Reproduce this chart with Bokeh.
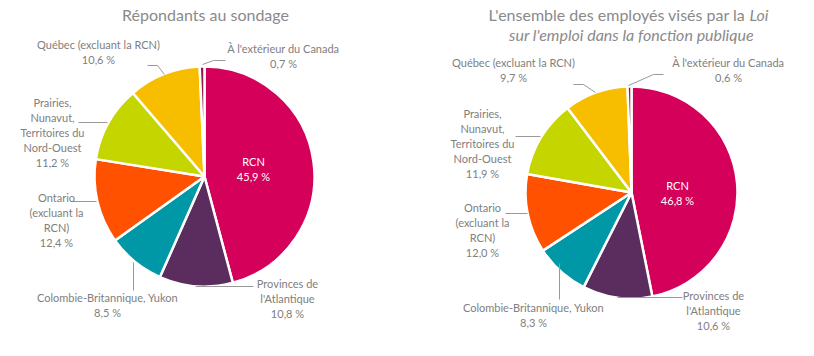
import numpy as np
from bokeh.plotting import figure
from bokeh.models import Range1d, ColumnDataSource
from bokeh.core.properties import value
from bokeh.embed import file_html
from bokeh.resources import INLINE

# ---- data ----
categories = ["RCN", "Provinces de l'Atlantique", "Colombie-Britannique, Yukon",
              "Ontario (excluant la RCN)", "Prairies, Nunavut, Territoires du Nord-Ouest",
              "Québec (excluant la RCN)", "À l'extérieur du Canada"]
label_lines = [["RCN"], ["Provinces de", "l'Atlantique"], ["Colombie-Britannique, Yukon"],
               ["Ontario", "(excluant la", "RCN)"],
               ["Prairies,", "Nunavut,", "Territoires du", "Nord-Ouest"],
               ["Québec (excluant la RCN)"], ["À l'extérieur du Canada"]]
respondents = [45.9, 10.8, 8.5, 12.4, 11.2, 10.6, 0.7]
employees = [46.8, 10.6, 8.3, 12.0, 11.9, 9.7, 0.6]
colors = ["#D4005A", "#5B2C5E", "#0098A6", "#FF5100", "#C5D500", "#F7BE00", "#8E1B45"]

W, H = 814, 356
FONT = "Lato"
GRAY = "#808080"
TGRAY = "#8A8A8A"
FS = "11px"
TFS = "16px"
LH = 15

p = figure(width=W, height=H, x_range=Range1d(0, W), y_range=Range1d(0, H),
           output_backend="svg", toolbar_location=None, min_border=0,
           x_axis_type=None, y_axis_type=None)
p.grid.visible = False
p.outline_line_color = None
p.background_fill_color = "white"
p.border_fill_color = "white"

def Y(py):
    return H - py

charts = [
    dict(vals=respondents, cx=204, cy=176, r=110,
         labels=[(253, 161), (287, 283), (107, 297), (56, 197), (52, 102), (98, 44), (283, 48)],
         leaders=[None, [(195, 286), (253, 286)], [(133, 262), (133, 290)],
                  [(70, 201), (96, 201)], [(78, 122), (107, 122)],
                  [(147, 65), (157, 65), (164, 74)], [(202, 64), (213, 60), (225, 60)]]),
    dict(vals=employees, cx=631, cy=192, r=106,
         labels=[(677, 185), (713, 295), (533, 307), (482, 207), (482, 113), (513, 62), (728, 62)],
         leaders=[None, [(617, 297), (682, 297)], [(559, 263), (559, 299)],
                  [(505, 213), (527, 213)], [(515, 136), (540, 136)],
                  [(573, 84), (583, 84), (595, 92)], [(628, 85), (653, 74), (663, 74)]]),
]

for ch in charts:
    vals = np.array(ch["vals"], dtype=float)
    frac = vals / vals.sum()
    cum = np.concatenate([[0.0], np.cumsum(frac)])
    start = np.pi / 2 - 2 * np.pi * cum[:-1]
    end = np.pi / 2 - 2 * np.pi * cum[1:]
    src = ColumnDataSource(dict(start=start, end=end, color=colors, cat=categories))
    p.wedge(x=ch["cx"], y=Y(ch["cy"]), radius=ch["r"], start_angle="start", end_angle="end",
            direction="clock", fill_color="color", line_color="white", line_width=2.5,
            source=src)
    for ld in ch["leaders"]:
        if ld is None:
            continue
        p.line([a for a, b in ld], [Y(b) for a, b in ld], line_color="#999999", line_width=1)
    xs, ys, ts, cs = [], [], [], []
    for i, (lx, ly) in enumerate(ch["labels"]):
        lines = label_lines[i] + [f"{ch['vals'][i]:.1f}".replace(".", ",") + " %"]
        for k, t in enumerate(lines):
            xs.append(lx)
            ys.append(Y(ly + k * LH))
            ts.append(t)
            cs.append("white" if i == 0 else GRAY)
    p.text(x=xs, y=ys, text=ts, text_color=cs, text_font=value(FONT), text_font_size=FS,
           text_align="center", text_baseline="middle")

# titles
p.text(x=[205], y=[Y(14)], text=["Répondants au sondage"], text_color=TGRAY,
       text_font=value(FONT), text_font_size=TFS, text_align="center", text_baseline="middle")
p.text(x=[745], y=[Y(14)], text=["L'ensemble des employés visés par la"], text_color=TGRAY,
       text_font=value(FONT), text_font_size=TFS, text_align="right", text_baseline="middle")
p.text(x=[749], y=[Y(14)], text=["Loi"], text_color=TGRAY, text_font_style="italic",
       text_font=value(FONT), text_font_size=TFS, text_align="left", text_baseline="middle")
p.text(x=[631], y=[Y(34)], text=["sur l'emploi dans la fonction publique"], text_color=TGRAY,
       text_font_style="italic",
       text_font=value(FONT), text_font_size=TFS, text_align="center", text_baseline="middle")

open("out.html", "w").write(file_html(p, INLINE))
